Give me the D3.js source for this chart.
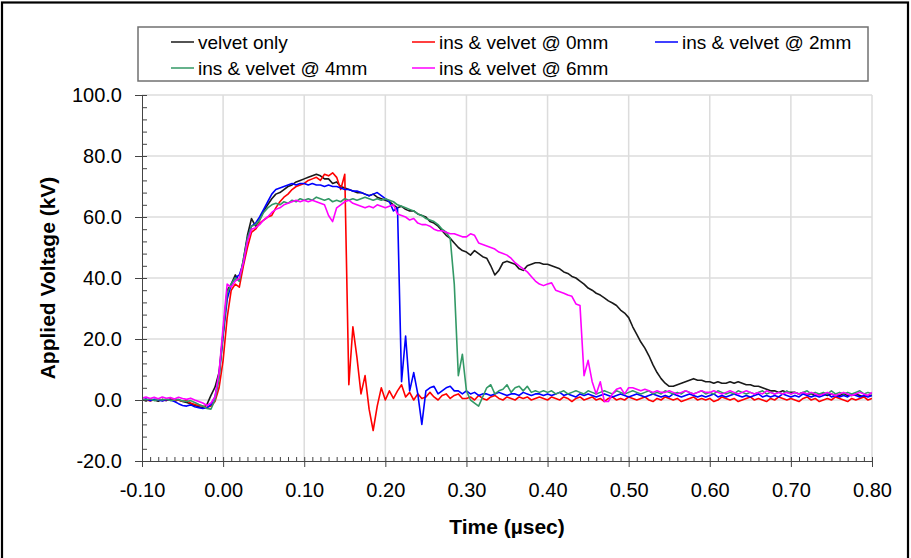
<!DOCTYPE html>
<html lang="en">
<head>
<meta charset="utf-8">
<title>Applied Voltage vs Time</title>
<style>
  body { margin: 0; background: #fff; }
  svg text { font-family: "Liberation Sans", Arial, sans-serif; fill: #000; }
</style>
</head>
<body>
<script src="https://d3js.org/d3.v7.min.js"></script>
<script>
// samples every 0.005 usec, from -0.10 to 0.80 (181 points per trace)
const tStart = -0.1;
const tStep = 0.005;

const velvetOnly = [
  0.2, -0.3, 0.3, 0, -0.4, 0.2, -0.2, 0.3, -0.3, 0, -0.5, -0.8, -1.2, -1.8, -2.2, -2.6, -1.5, 1.5, 4.2, 9,
  22, 36, 38, 41, 39, 46, 54, 59.5, 57, 59, 62, 64, 66, 67.5, 68, 69, 70, 70.5, 71.5, 72,
  72.5, 73, 73.5, 74, 73.5, 72.5, 72.5, 71, 71.5, 70, 69.5, 69, 68.5, 68, 68, 67.5, 67, 67.5, 66.5, 66,
  65.5, 65, 64, 63, 63.5, 62.5, 62, 62, 61, 60.5, 60, 58.5, 58, 57, 55.5, 54, 53, 51.5, 50, 49,
  48.5, 47.5, 49, 48, 47, 46.5, 44, 41, 42.5, 45, 45.5, 45, 44.5, 43, 42.5, 44, 44.5, 45, 45, 44.5,
  44.5, 44, 43.5, 43, 42, 41.5, 40.5, 40, 39, 38, 36.7, 36, 35, 34.4, 33.5, 32.5, 31.8, 31, 29.5, 28.5,
  27, 24, 21.5, 19, 17, 14.5, 11.5, 9, 7, 5.5, 4.5, 4.5, 5, 5.5, 6, 6.5, 7, 6.5, 6.5, 6,
  6, 5.5, 6, 5.5, 5.5, 6, 5.5, 6, 5.5, 5, 5, 4.5, 4.5, 4, 3.5, 3, 3, 2.5, 3, 2.5,
  2.5, 2.5, 2, 2.5, 2, 2, 1.5, 2, 2, 1.5, 2, 1.5, 1.5, 2, 1.5, 1.5, 2, 1.5, 1, 1.5, 1.5
];

const ins0mm = [
  0, 0.2, -0.3, 0.1, 0.3, -0.2, 0, 0.2, -0.2, 0, -0.4, -0.2, -1, -1.5, -1.8, -2, -2.5, -2, -0.5, 4,
  13, 27, 36, 38, 37, 44, 50, 55, 56, 58, 59, 60, 60.5, 63, 65, 66.5, 67.5, 69, 70, 70.5,
  71, 72, 72.5, 73, 72, 74, 73.5, 74.5, 73, 69, 74, 5, 24, 14, 2, 8, -3, -10, -2, 4,
  0, 3, 0.5, 3, 5, 1, 2.5, 0, 2, 0.5, 1, 2.5, 1, 0, 1.5, 2, 0.5, 1.5, 2, 0.5,
  0.5, 1, 0, 1.5, 0.5, 0, 1, 1.5, 0.5, 0, 1, 0.5, 0, 1, 0.5, 1, 0, 0.5, 1, 0.5,
  0, 1, 0.5, 0, 1, 0.5, -0.5, 0.5, 1, 0, 0.5, 1, 0, 0.5, -0.5, 0.5, 1, 0, 0.5, 0,
  1, 0.5, 0, 0.5, 1, 0, -0.5, 0.5, 0, 1, 0.5, 0, 0.5, -0.5, 0, 0.5, 1, 0, 0.5, 0,
  0.5, -0.5, 0, 1, 0.5, 0, 0.5, -0.5, 0, 0.5, 1, 0, 0.5, 0, -0.5, 0.5, 0, 1, 0.5, 0,
  0.5, 0, -0.5, 0.5, 1, 0, 0.5, -0.5, 0, 0.5, 0, 1, 0.5, 0, -0.5, 0.5, 0, 0.5, 1, 0, 0.5
];

const ins2mm = [
  0, 0.3, -0.2, 0.2, 0, -0.3, 0.2, 0, -0.5, -1.2, -1.8, -2, -1.6, -2.2, -2.5, -2.8, -2.5, -1.5, 1, 8,
  21, 33, 38, 40, 41, 45, 53, 57, 58, 60, 62.5, 65, 67.5, 69, 69.5, 70, 70.5, 71, 70.5, 71,
  71, 70.5, 71, 70.5, 70.5, 70, 70.5, 70, 70, 69.5, 69, 69, 68.5, 68.5, 68, 67.5, 67, 67.5, 68, 67,
  66, 65, 62, 63, 6, 21, 3, 9, 2, -8, 3, 4, 4.5, 2, 3, 4, 4.5, 3, 3, 2,
  3, 2, 2.5, 1.5, 2, 2, 1.5, 2, 2.5, 2, 1.5, 2, 2, 1.5, 2.5, 2, 1.5, 2, 2, 1.5,
  2, 1.5, 2, 2.5, 1.5, 2, 1.5, 1, 2, 1.5, 2, 1.5, 1, 1.5, 2, 1.5, 1, 1.5, 2, 1.5,
  1, 1.5, 2, 1.5, 1, 1.5, 2, 1.5, 1, 1.5, 1, 2, 1.5, 1, 1.5, 2, 1.5, 1, 1.5, 1,
  1.5, 2, 1, 1.5, 1, 1.5, 2, 1.5, 1, 1.5, 1, 1.5, 2, 1, 1.5, 1, 1.5, 1, 2, 1.5,
  1, 1.5, 1, 2, 1.5, 1, 1.5, 1, 1.5, 2, 1, 1.5, 1, 1.5, 1, 2, 1.5, 1, 1.5, 1, 1.5
];

const ins4mm = [
  0.3, 0, 0.4, -0.2, 0.2, 0, 0.3, -0.2, 0, 0.2, -0.3, -0.5, -0.2, -0.8, -1.5, -2, -2.8, -3, 0, 7,
  22, 35, 38, 40, 39, 46, 53, 57, 57.5, 59, 61.5, 63, 64, 64.5, 64, 65, 64.5, 65.5, 65, 66,
  65.5, 66, 65.5, 66.5, 66, 65.5, 66, 65, 65.5, 65, 66, 65.5, 66, 65.5, 66, 66.5, 66, 65.5, 66, 65.5,
  66, 65.5, 65, 64, 63.5, 63, 62.5, 62, 61, 60.5, 59.5, 59, 58.5, 57.5, 56, 55, 53, 38, 8, 15,
  3, 0, -1, -2, 1, 4, 5, 2, 3, 3.5, 5, 2.5, 4, 4.5, 3, 4.5, 2.5, 3, 2.5, 3,
  2.5, 3, 2, 2.5, 3, 2, 2.5, 3, 2.5, 2, 3, 2.5, 2, 2.5, 3, 2.5, 2, 3, 2.5, 2,
  2.5, 3, 2.5, 2, 2.5, 3, 2, 2.5, 2, 3, 2.5, 2, 2.5, 2, 3, 2.5, 2, 2.5, 3, 2,
  2.5, 2, 3, 2.5, 2, 2.5, 2, 3, 2.5, 2, 2.5, 2, 2.5, 3, 2, 2.5, 2, 2.5, 2, 3,
  2, 2.5, 2, 2.5, 3, 2, 2.5, 2, 2.5, 2, 3, 2, 2.5, 2, 2.5, 2, 2.5, 3, 2, 2.5, 2
];

const ins6mm = [
  0.6, 1, 0.5, 0.9, 0.4, 1, 0.6, 0.8, 0.3, 0.9, 0.5, 0.2, 0.6, 0, -0.5, -1, -1.8, -1, 1, 9,
  24, 38, 37, 39, 40, 45, 52, 56, 56.5, 57.5, 59, 60, 61.5, 62.5, 63, 64, 64.5, 65, 65.5, 65,
  65.5, 65, 65.5, 65, 64.5, 64, 60.5, 58.5, 63, 64, 65, 65.5, 64.5, 64, 63.5, 63, 63.5, 63, 64, 63.5,
  63, 63.5, 64, 61, 60.5, 60, 59, 59.5, 58, 57.5, 57.5, 57, 56, 55.5, 55.5, 55, 54.5, 54.5, 54, 53.5,
  53.5, 54.5, 54, 51.5, 51, 50.5, 50, 49.5, 48.5, 48, 47.5, 46.5, 45, 44, 43, 42, 40.5, 39, 38, 37.5,
  38, 38.4, 36, 35.5, 35, 34.4, 34, 31.5, 31, 8, 13, 6, 2, 6, -0.5, -0.5, 2, 3.5, 4, 2,
  4, 4, 3.5, 3, 3.5, 3, 2.5, 3, 2.5, 2.5, 3, 2.5, 2, 2.5, 3, 2.5, 2, 2.5, 3, 2.5,
  2.5, 3, 2.5, 2, 2.5, 3, 2.5, 2, 2.5, 3, 2.5, 2, 2.5, 2, 3, 2.5, 2, 2.5, 2, 2.5,
  2, 2.5, 2, 2.5, 2, 2.5, 2, 1.5, 2, 2.5, 2, 1.5, 2, 2.5, 2, 1.5, 2, 2.5, 2, 1.5, 2.5
];

const seriesNames = ["velvet only", "ins & velvet @ 0mm", "ins & velvet @ 2mm", "ins & velvet @ 4mm", "ins & velvet @ 6mm"];
const seriesValues = [velvetOnly, ins0mm, ins2mm, ins4mm, ins6mm];
const seriesColors = ["#1a1a1a", "#ff0000", "#0000ff", "#339966", "#ff00ff"];

const xTicks = [-0.1, 0, 0.1, 0.2, 0.3, 0.4, 0.5, 0.6, 0.7, 0.8];
const yTicks = [-20, 0, 20, 40, 60, 80, 100];

const width = 911;
const height = 558;
const plotLeft = 142, plotRight = 872, plotTop = 95, plotBottom = 461;

const svg = d3.select("body").append("svg")
    .attr("width", width)
    .attr("height", height);

// outer frame
svg.append("rect")
    .attr("x", 2).attr("y", 2.5)
    .attr("width", 906).attr("height", 600)
    .attr("fill", "none")
    .attr("stroke", "#000")
    .attr("stroke-width", 2.2);

const x = d3.scaleLinear().domain([-0.1, 0.8]).range([plotLeft, plotRight]);
const y = d3.scaleLinear().domain([-20, 100]).range([plotBottom, plotTop]);

// grid
const grid = svg.append("g").attr("stroke", "#dcdcdc").attr("stroke-width", 1.5);
grid.selectAll("line.v")
    .data(xTicks.slice(1))
    .join("line")
    .attr("class", "v")
    .attr("x1", d => x(d)).attr("x2", d => x(d))
    .attr("y1", plotTop).attr("y2", plotBottom);
grid.selectAll("line.h")
    .data(yTicks.slice(1))
    .join("line")
    .attr("class", "h")
    .attr("x1", plotLeft).attr("x2", plotRight)
    .attr("y1", d => y(d)).attr("y2", d => y(d));

// traces
svg.append("clipPath").attr("id", "plot")
    .append("rect")
    .attr("x", plotLeft).attr("y", plotTop)
    .attr("width", plotRight - plotLeft).attr("height", plotBottom - plotTop);

const line = d3.line()
    .x((d, i) => x(tStart + i * tStep))
    .y(d => y(d));

svg.append("g")
    .attr("clip-path", "url(#plot)")
    .attr("fill", "none")
    .attr("stroke-width", 1.6)
    .attr("stroke-linejoin", "round")
    .selectAll("path")
    .data(seriesValues)
    .join("path")
    .attr("stroke", (d, i) => seriesColors[i])
    .attr("d", line);

// y axis
const minorY = d3.range(-20, 101, 4);
svg.append("g")
    .attr("transform", `translate(${plotLeft},0)`)
    .call(d3.axisRight(y).tickValues(minorY).tickSize(5).tickFormat(""))
    .call(g => g.select(".domain").remove())
    .call(g => g.selectAll("line").attr("stroke", "#444"));

svg.append("g")
    .attr("transform", `translate(${plotLeft},0)`)
    .call(d3.axisLeft(y).tickValues(yTicks).tickSize(7).tickPadding(13).tickSizeOuter(0)
        .tickFormat(d => d.toFixed(1)))
    .call(g => g.select(".domain").attr("stroke", "#444"))
    .call(g => g.selectAll("line").attr("stroke", "#444"))
    .call(g => g.selectAll("text").attr("font-size", 20).attr("fill", "#000")
        .style("font-family", "'Liberation Sans', Arial, sans-serif"));

// x axis
const minorX = d3.range(-10, 81, 1).map(d => d / 100);
svg.append("g")
    .attr("transform", `translate(0,${plotBottom})`)
    .call(d3.axisTop(x).tickValues(minorX).tickSize(4).tickFormat(""))
    .call(g => g.select(".domain").remove())
    .call(g => g.selectAll("line").attr("stroke", "#444"));

svg.append("g")
    .attr("transform", `translate(0,${plotBottom})`)
    .call(d3.axisBottom(x).tickValues(xTicks).tickSize(6).tickPadding(16).tickSizeOuter(0)
        .tickFormat(d => d.toFixed(2)))
    .call(g => g.select(".domain").attr("stroke", "#444"))
    .call(g => g.selectAll("line").attr("stroke", "#444"))
    .call(g => g.selectAll("text").attr("font-size", 20).attr("fill", "#000")
        .style("font-family", "'Liberation Sans', Arial, sans-serif"));

// axis titles
svg.append("text")
    .attr("x", (plotLeft + plotRight) / 2).attr("y", 534)
    .attr("text-anchor", "middle")
    .attr("font-size", 21).attr("font-weight", "bold")
    .text("Time (µsec)");

svg.append("text")
    .attr("transform", `translate(55,${(plotTop + plotBottom) / 2}) rotate(-90)`)
    .attr("text-anchor", "middle")
    .attr("font-size", 21).attr("font-weight", "bold")
    .text("Applied Voltage (kV)");

// legend
const legend = svg.append("g");
legend.append("rect")
    .attr("x", 138).attr("y", 27)
    .attr("width", 730).attr("height", 54)
    .attr("fill", "#fff")
    .attr("stroke", "#707070")
    .attr("stroke-width", 1.5);

const legendPos = [[171, 42], [412, 42], [655, 42], [171, 68], [412, 68]];
const item = legend.selectAll("g.item")
    .data(seriesNames)
    .join("g")
    .attr("class", "item")
    .attr("transform", (d, i) => `translate(${legendPos[i][0]},${legendPos[i][1]})`);
item.append("line")
    .attr("x1", 0).attr("x2", 23)
    .attr("stroke", (d, i) => seriesColors[i])
    .attr("stroke-width", 1.5);
item.append("text")
    .attr("x", 27).attr("y", 7)
    .attr("font-size", 19)
    .text(d => d);
</script>
</body>
</html>
